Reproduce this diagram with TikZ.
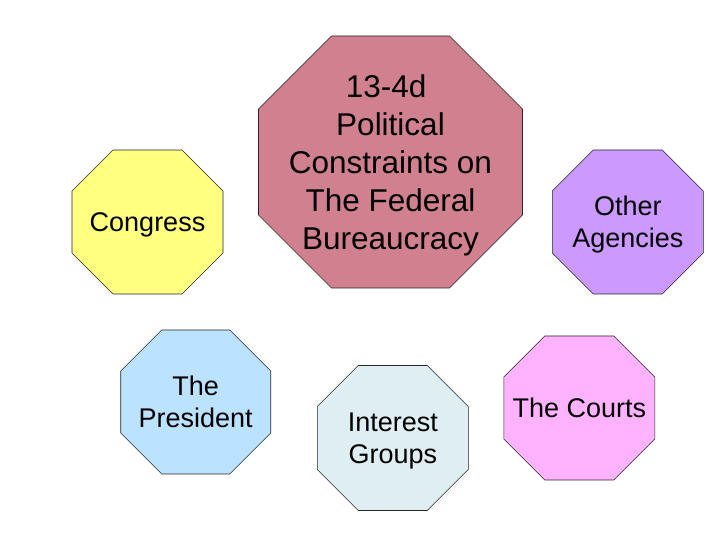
\documentclass[tikz,border=0pt]{standalone}
\usepackage{fontspec}
\setmainfont{Liberation Sans}
\usetikzlibrary{backgrounds}
\definecolor{congressfill}{RGB}{255,255,128}
\definecolor{titlefill}{RGB}{208,128,142}
\definecolor{agencyfill}{RGB}{204,153,255}
\definecolor{presfill}{RGB}{187,227,255}
\definecolor{groupfill}{RGB}{222,238,242}
\definecolor{courtfill}{RGB}{255,179,255}
\newcommand{\octagon}[3]{\filldraw[fill=#3,draw=black!85,line width=0.6pt]
	([xshift=#2]#1.north west) -- ([xshift=-#2]#1.north east) -- ([yshift=-#2]#1.north east) -- ([yshift=#2]#1.south east)
	-- ([xshift=-#2]#1.south east) -- ([xshift=#2]#1.south west) -- ([yshift=#2]#1.south west) -- ([yshift=-#2]#1.north west) -- cycle;}

\begin{document}
\begin{tikzpicture}[x=1pt,y=1pt,
			oct/.style={rectangle,inner sep=0pt,outer sep=0pt,align=center,font=\fontsize{27}{32}\selectfont,
				text depth=0pt,minimum width=151pt,minimum height=144pt},
			big oct/.style={oct,font=\fontsize{31.5}{38}\selectfont,minimum width=264pt,minimum height=252pt}
			]
			\useasboundingbox (0,0) rectangle (720,540);
			\node[big oct](title) at (390.5,378){13-4d\ \mbox{}\\Political\\Constraints on\\The Federal\\Bureaucracy};
			\node[oct](congress) at (147.5,318){Congress};
			\node[oct](agencies) at (627.8,318){Other\\Agencies};
			\node[oct,minimum width=150pt](president) at (195.7,138){The\\President};
			\node[oct,minimum height=145pt](groups) at (392.8,102){Interest\\Groups};
			\node[oct](courts) at (579.3,132){The Courts};
			\begin{scope}[on background layer]
				\octagon{title}{73pt}{titlefill}
				\octagon{congress}{41pt}{congressfill}
				\octagon{agencies}{41pt}{agencyfill}
				\octagon{president}{41pt}{presfill}
				\octagon{groups}{41pt}{groupfill}
				\octagon{courts}{41pt}{courtfill}
			\end{scope}
\end{tikzpicture}
\end{document}
